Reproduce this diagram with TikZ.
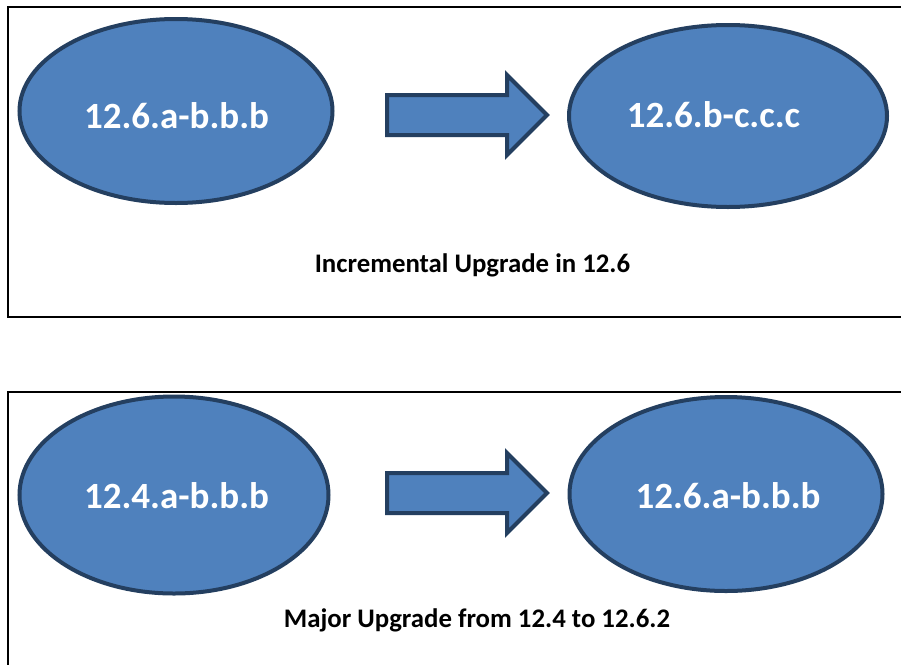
\documentclass[tikz,border=0pt]{standalone}
\usepackage{fontspec}
\setmainfont{Carlito}
\usetikzlibrary{shapes.geometric}
\definecolor{ovalfill}{HTML}{4F81BD}
\definecolor{ovaledge}{HTML}{243F60}
\tikzset{
  oval/.style={ellipse, draw=ovaledge, fill=ovalfill, line width=4pt, inner sep=0pt},
  vtext/.style={text=white, font=\fontsize{37}{42}\selectfont\bfseries, inner sep=0pt, anchor=base},
  caption/.style={text=black, font=\fontsize{26.8}{31}\selectfont\bfseries, inner sep=0pt, anchor=base},
  frame/.style={draw=black, line width=2pt},
  blockarrow/.style={draw=ovaledge, fill=ovalfill, line width=4pt, line join=miter}
}
\begin{document}
\begin{tikzpicture}[x=1pt, y=-1pt]
  \useasboundingbox (0,0) rectangle (901,664);
  \fill[white] (0,0) rectangle (901,664);

  % frames, open to the right (and bottom for the lower one)
  \draw[frame] (905,7) -- (8,7) -- (8,317) -- (905,317);
  \draw[frame] (905,392) -- (8,392) -- (8,670);

  % incremental upgrade
  \node[oval, minimum width=313pt, minimum height=184pt] (a1) at (176,111) {};
  \node[vtext] (a1t) at (176.5,128) {12.6.a-b.b.b};
  \node[oval, minimum width=318pt, minimum height=182pt] (b1) at (728,116) {};
  \node[vtext] (b1t) at (713.5,127) {12.6.b-c.c.c};
  \draw[blockarrow] (387,95) -- (507,95) -- (507,75) -- (547,115) -- (507,155) -- (507,135) -- (387,135) -- cycle;
  \node[caption] (c1) at (472.5,272) {Incremental Upgrade in 12.6};

  % major upgrade
  \node[oval, minimum width=309pt, minimum height=197pt] (a2) at (174,495) {};
  \node[vtext] (a2t) at (176.5,508) {12.4.a-b.b.b};
  \node[oval, minimum width=313pt, minimum height=194pt] (b2) at (726,494) {};
  \node[vtext] (b2t) at (728,508) {12.6.a-b.b.b};
  \draw[blockarrow] (387,473) -- (507,473) -- (507,453) -- (547,493) -- (507,533) -- (507,513) -- (387,513) -- cycle;
  \node[caption] (c2) at (477,627) {Major Upgrade from 12.4 to 12.6.2};
\end{tikzpicture}
\end{document}
